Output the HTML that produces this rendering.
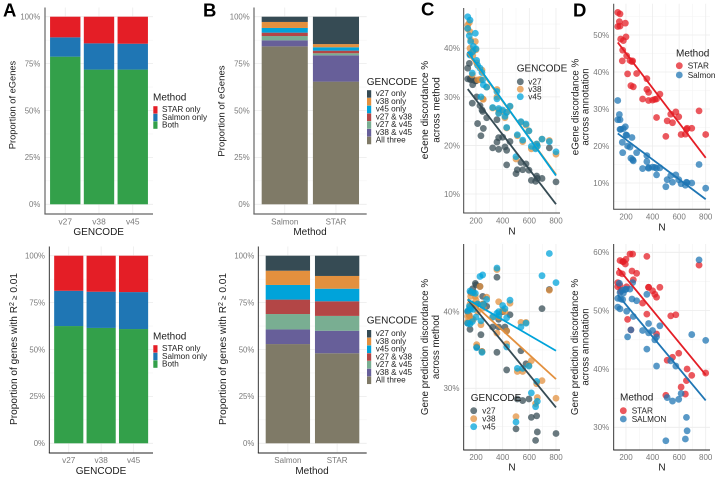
<!DOCTYPE html>
<html lang="en">
<head>
<meta charset="utf-8">
<title>eGene discordance figure</title>
<style>
html,body{margin:0;padding:0;background:#fff;}
svg{display:block;font-family:"Liberation Sans","DejaVu Sans",sans-serif;}
.title{font-size:10px;fill:#1c1c1c;}
.leg{font-size:8.2px;fill:#222;}
.letter{font-size:18.5px;font-weight:bold;fill:#000;}
</style>
</head>
<body>
<svg id="figure" width="720" height="479" viewBox="0 0 720 479" xmlns="http://www.w3.org/2000/svg">
<rect x="0" y="0" width="720" height="479" fill="#fff"/>
<g id="marks"></g>

<text class="letter" x="3" y="16.5">A</text>
<text class="letter" x="203" y="16.5">B</text>
<text class="letter" x="421" y="15.5">C</text>
<text class="letter" x="573" y="16.5">D</text>

<text class="title" style="font-size:9.3px" transform="translate(15.5 105) rotate(-90)" text-anchor="middle">Proportion of eGenes</text>
<text class="title" x="98.7" y="235" text-anchor="middle">GENCODE</text>
<text class="title" transform="translate(17 349) rotate(-90)" text-anchor="middle" style="font-size:10.1px">Proportion of genes with R<tspan dy="-3" style="font-size:7px">2</tspan><tspan dy="3" style="font-size:8px"> ≥</tspan> 0.01</text>
<text class="title" x="101" y="474" text-anchor="middle">GENCODE</text>

<text class="title" style="font-size:9.6px" transform="translate(224.5 111) rotate(-90)" text-anchor="middle">Proportion of eGenes</text>
<text class="title" x="310" y="235" text-anchor="middle">Method</text>
<text class="title" transform="translate(226.2 349) rotate(-90)" text-anchor="middle" style="font-size:10.1px">Proportion of genes with R<tspan dy="-3" style="font-size:7px">2</tspan><tspan dy="3" style="font-size:8px"> ≥</tspan> 0.01</text>
<text class="title" x="312" y="474" text-anchor="middle">Method</text>

<g text-anchor="middle">
<text class="title" transform="translate(428.2 110) rotate(-90)">eGene discordance %</text>
<text class="title" transform="translate(439.5 110) rotate(-90)">across method</text>
</g>
<text class="title" x="512" y="234.5" text-anchor="middle">N</text>
<g text-anchor="middle">
<text class="title" style="font-size:9.8px" transform="translate(428.2 347) rotate(-90)">Gene prediction discordance %</text>
<text class="title" style="font-size:9.8px" transform="translate(439.2 347) rotate(-90)">across method</text>
</g>
<text class="title" x="512" y="470.7" text-anchor="middle">N</text>

<g text-anchor="middle">
<text class="title" style="font-size:9.8px" transform="translate(578.5 107) rotate(-90)">eGene discordance %</text>
<text class="title" style="font-size:9.8px" transform="translate(588.7 107) rotate(-90)">across annotation</text>
</g>
<text class="title" x="662" y="230.5" text-anchor="middle">N</text>
<g text-anchor="middle">
<text class="title" style="font-size:9.8px" transform="translate(578.2 347) rotate(-90)">Gene prediction discordance %</text>
<text class="title" style="font-size:9.8px" transform="translate(588.7 347) rotate(-90)">across annotation</text>
</g>
<text class="title" x="662" y="470.7" text-anchor="middle">N</text>
<g id="legends"></g>
</svg>

<script>
/* ---------- categories and tick labels ---------- */
const gencodeCategories = ['v27', 'v38', 'v45'];
const methodCategories = ['Salmon', 'STAR'];
const percentTicks = [0, 25, 50, 75, 100];
const sampleTicks = [200, 400, 600, 800];
const topLeftDiscordanceTicks = [10, 20, 30, 40];
const bottomLeftDiscordanceTicks = [30, 40];
const topRightDiscordanceTicks = [10, 20, 30, 40, 50];
const bottomRightDiscordanceTicks = [30, 40, 50, 60];

/* ---------- panel A stacked bars (percent, bottom of stack first) ---------- */
const aTopBoth = [78.7, 71.8, 71.8];
const aTopSalmonOnly = [10.3, 14.0, 13.8];
const aTopStarOnly = [11.0, 14.2, 14.4];
const aBottomBoth = [62.5, 61.5, 60.9];
const aBottomSalmonOnly = [18.8, 19.3, 19.7];
const aBottomStarOnly = [18.7, 19.2, 19.4];

/* ---------- panel B stacked bars (percent, bottom of stack first) ---------- */
const bTopAllThree = [84.2, 65.4];
const bTopV38V45 = [3.2, 14.0];
const bTopV27V45 = [2.3, 1.1];
const bTopV27V38 = [1.8, 1.4];
const bTopV45Only = [2.5, 1.8];
const bTopV38Only = [3.2, 1.7];
const bTopV27Only = [2.8, 14.6];
const bBottomAllThree = [52.9, 48.0];
const bBottomV38V45 = [7.8, 12.0];
const bBottomV27V45 = [8.2, 7.9];
const bBottomV27V38 = [7.7, 7.8];
const bBottomV45Only = [7.8, 6.7];
const bBottomV38Only = [7.6, 6.8];
const bBottomV27Only = [8.0, 10.8];

/* ---------- scatter panels: sample size per tissue ---------- */
const sampleSizes = [138,138,150,155,155,160,172,175,180,195,200,205,212,230,237,245,250,255,280,325,357,357,370,370,400,417,430,430,455,500,510,537,550,575,597,615,647,655,660,695,750,800];

const cTopV27 = [35.9,33.7,36.9,33.7,38.8,33.5,28.7,32.5,33.5,33.3,33.3,30.0,24.5,28.2,22.0,27.3,27.0,23.5,25.7,19.5,25.3,20.7,21.6,19.2,21.7,19.7,19.0,16.0,20.8,14.2,15.0,16.5,15.0,16.2,14.9,12.8,12.6,13.7,13.2,13.2,19.5,12.5];
const cTopV38 = [44.8,44.0,45.3,43.4,40.0,41.7,34.5,38.5,39.5,41.4,39.7,37.0,33.5,33.6,33.5,35.5,29.6,29.5,32.0,27.7,31.5,30.0,26.7,27.3,27.0,25.7,26.8,23.6,28.0,17.2,22.0,24.8,20.8,24.2,23.0,19.3,19.5,20.3,20.0,21.3,21.0,18.2];
const cTopV45 = [46.5,44.1,42.6,45.8,38.6,41.4,34.9,39.3,40.4,43.1,39.9,37.5,36.5,35.9,30.0,35.0,33.5,32.5,32.0,27.8,31.1,29.6,27.6,26.6,27.3,26.0,26.8,23.7,28.1,17.7,22.2,24.9,21.1,24.4,23.0,19.8,19.3,20.3,19.8,21.3,20.8,18.7];
const cBottomV27 = [40,38.5,39.5,37.7,40.5,42.5,41,43,42.5,43.7,43.5,35.4,41,43.3,37,34.8,42,41,40.7,38,44.5,34.7,39,38,40,38,32.4,37.5,39.6,24.7,28.6,34.9,28.4,33.2,28.6,26.2,23.2,26.4,24.3,40.4,42.9,24.1];
const cBottomV38 = [39.4,38.7,39.5,38.5,41,42,39,42.5,39,42,41.5,35.7,40,43.3,38.3,34.8,41,40.5,41.9,39.3,45.5,37.2,41.3,39.3,40.2,40,35.8,37.5,41.1,26.3,32.2,38.6,32.2,38.6,33,33.6,28,30.6,28.8,31,42.8,28.7];
const cBottomV45 = [40.1,38.5,40.7,38.4,42.7,40.3,38.7,42.5,40.3,42.4,39.3,35.3,41,44.6,38.8,34.7,44.8,40.9,41.6,39.3,45.7,39.8,40,39.5,40.8,40.4,39.2,35.4,41.5,25.6,32.6,38,32.6,38.5,32.9,29.4,27.6,30.9,28.3,44.7,47.6,43.8];
const dTopStar = [56.1,52.3,53.6,55.7,52.4,48.9,43.0,45.9,48.5,53.2,49.5,44.4,39.5,43.1,36.3,42.8,43.0,36.0,39.6,32.7,38.2,35.3,34.5,32.3,32.4,32.6,32.7,27.7,34.0,22.6,26.8,28.6,26.3,29.2,27.9,23.1,23.2,24.5,24.8,24.8,29.5,23.1];
const dTopSalmon = [32.3,27.1,28.5,27.1,24.5,24.5,21.0,18.2,24.7,25.2,23.0,22.9,20.0,19.7,16.7,22.3,16.3,16.0,18.2,13.9,17.4,15.8,14.0,14.2,14.3,14.2,12.2,14.0,14.1,9.0,10.9,12.0,10.2,12.2,10.9,9.8,9.4,10.2,10.1,10.0,15.0,8.6];
const dBottomStar = [54.8,54.1,56.5,58.6,54.3,53.3,56.3,58.4,58.4,58,58.8,54.1,48.5,59.7,46.7,56.8,59.7,55.3,56.4,51.3,59.3,49.4,54,54,53.4,52.8,52.3,46,54,35.5,41.5,49.1,42,49.3,42.7,36.9,35.7,38,40,38.9,57.8,39.3];
const dBottomSalmon = [52.1,50.6,54.7,53.1,50.3,52,53.5,51.9,53,53.6,53.7,49.9,45.5,53.7,46.7,52,54.8,49,51.7,46.6,52.8,43.4,47.8,46.2,46.6,45,45.5,40.5,47.4,27.7,35.1,41.4,34.5,40.5,34.8,35.8,28,31.7,29.4,45.9,58.7,44.9];

/* ---------- fitted trend lines: value at first and last trend N ---------- */
const trendSizes = [138, 800];
const cTopV27Trend = [31.6, 7.9];
const cTopV38Trend = [39.0, 14.0];
const cTopV45Trend = [39.3, 13.8];
const cBottomV27Trend = [41.6, 27.5];
const cBottomV38Trend = [41.7, 31.2];
const cBottomV45Trend = [41.6, 34.9];
const dTopStarTrend = [48.0, 16.8];
const dTopSalmonTrend = [23.4, 5.6];
const dBottomStarTrend = [57.3, 39.0];
const dBottomSalmonTrend = [52.7, 34.6];

/* ---------- colours ---------- */
const RED = '#e41e26', BLUE = '#1f76b4', GREEN = '#33a04a';
const V27 = '#364b54', V38 = '#e3903e', V45 = '#00a3da', V2738 = '#b34646', V2745 = '#79ae92', V3845 = '#675f99', ALL3 = '#7f7a67';
const NS = 'http://www.w3.org/2000/svg';
const marks = document.getElementById('marks');
const legends = document.getElementById('legends');

function svgEl(tag, attrs, parent) {
  const el = document.createElementNS(NS, tag);
  for (const k in attrs) el.setAttribute(k, attrs[k]);
  parent.appendChild(el);
  return el;
}
function linear(d0, d1, r0, r1) {
  return v => r0 + (v - d0) * (r1 - r0) / (d1 - d0);
}
function gridLine(parent, x1, y1, x2, y2, minor) {
  const line = svgEl('line', {x1, y1, x2, y2, stroke: minor ? '#f4f4f4' : '#ececec', 'stroke-width': minor ? 0.6 : 0.8}, parent);
  
  
}
function axisLines(parent, g, color, width) {
  const yAxis = svgEl('line', {x1: g.left, y1: g.top, x2: g.left, y2: g.bottom, stroke: color, 'stroke-width': width}, parent);
  
  
  const xAxis = svgEl('line', {x1: g.left - width / 2, y1: g.bottom, x2: g.right, y2: g.bottom, stroke: color, 'stroke-width': width}, parent);
  
  
}
function tickLabel(parent, x, y, anchor, str, size) {
  const t = svgEl('text', {x, y, 'text-anchor': anchor, fill: '#7a7a7a', 'font-size': size}, parent);
  t.textContent = str;
  
  
}

/* ---------- stacked bar panel ---------- */
function barPanel(g, categories, series) {
  const panel = svgEl('g', {}, marks);
  
  
  const y = linear(0, 100, g.y0, g.y100);
  const step = (g.right - g.left) / (categories.length + 0.2);
  const xCenter = i => g.left + step * (i + 0.6);
  [12.5, 37.5, 62.5, 87.5].forEach(v => gridLine(panel, g.left, y(v), g.right, y(v), true));
  percentTicks.forEach(v => gridLine(panel, g.left, y(v), g.right, y(v), false));
  categories.forEach((c, i) => gridLine(panel, xCenter(i), g.top, xCenter(i), g.bottom, false));
  categories.forEach((c, i) => {
    let cum = 0;
    series.forEach(s => {
      const v = s.values[i];
      const bar = svgEl('rect', {x: xCenter(i) - step * 0.45, y: y(cum + v), width: step * 0.9, height: y(cum) - y(cum + v), fill: s.color}, panel);
      
      
      cum += v;
    });
    tickLabel(panel, xCenter(i), g.xTickY, 'middle', c, g.xTickSize);
  });
  percentTicks.forEach(v => tickLabel(panel, g.yTickX, y(v) + 2.8, 'end', v + '%', 7.8));
  axisLines(panel, g, g.axisColor, g.axisWidth);
}

barPanel({name: 'panel-a-top', left: 45, right: 153, top: 7.5, bottom: 214, y0: 204.3, y100: 16.7, xTickY: 224.3, xTickSize: 8.4, yTickX: 40.3, axisColor: '#666', axisWidth: 1.2},
  gencodeCategories, [{color: GREEN, values: aTopBoth}, {color: BLUE, values: aTopSalmonOnly}, {color: RED, values: aTopStarOnly}]);
barPanel({name: 'panel-a-bottom', left: 49.3, right: 153, top: 246.5, bottom: 453, y0: 443.3, y100: 255.7, xTickY: 463, xTickSize: 8.2, yTickX: 45, axisColor: '#222', axisWidth: 0.9},
  gencodeCategories, [{color: GREEN, values: aBottomBoth}, {color: BLUE, values: aBottomSalmonOnly}, {color: RED, values: aBottomStarOnly}]);
barPanel({name: 'panel-b-top', left: 254, right: 366.7, top: 7.5, bottom: 214, y0: 204.3, y100: 16.7, xTickY: 224.3, xTickSize: 8, yTickX: 249.7, axisColor: '#666', axisWidth: 1.2},
  methodCategories, [{color: ALL3, values: bTopAllThree}, {color: V3845, values: bTopV38V45}, {color: V2745, values: bTopV27V45}, {color: V2738, values: bTopV27V38}, {color: V45, values: bTopV45Only}, {color: V38, values: bTopV38Only}, {color: V27, values: bTopV27Only}]);
barPanel({name: 'panel-b-bottom', left: 258.3, right: 366.7, top: 246.5, bottom: 453, y0: 443.3, y100: 255.7, xTickY: 463, xTickSize: 8, yTickX: 254.3, axisColor: '#222', axisWidth: 0.9},
  methodCategories, [{color: ALL3, values: bBottomAllThree}, {color: V3845, values: bBottomV38V45}, {color: V2745, values: bBottomV27V45}, {color: V2738, values: bBottomV27V38}, {color: V45, values: bBottomV45Only}, {color: V38, values: bBottomV38Only}, {color: V27, values: bBottomV27Only}]);

/* ---------- scatter panel ---------- */
function scatterPanel(g, ticks, series) {
  const panel = svgEl('g', {}, marks);
  
  
  const x = linear(200, 800, g.x200, g.x800);
  const y = linear(g.vA, g.vB, g.yA, g.yB);
  const tickStep = ticks[1] - ticks[0];
  for (let v = ticks[0] - tickStep * 1.5; v <= ticks[ticks.length - 1] + tickStep * 2; v += tickStep) {
    const py = y(v);
    if (py > g.top && py < g.bottom) gridLine(panel, g.left, py, g.right, py, true);
  }
  [100, 300, 500, 700].forEach(v => { if (x(v) > g.left) gridLine(panel, x(v), g.top, x(v), g.bottom, true); });
  ticks.forEach(v => gridLine(panel, g.left, y(v), g.right, y(v), false));
  sampleTicks.forEach(v => gridLine(panel, x(v), g.top, x(v), g.bottom, false));
  series.forEach(s => {
    sampleSizes.forEach((n, i) => {
      const pt = svgEl('circle', {cx: x(n), cy: y(s.values[i]), r: 3.4, fill: s.color, 'fill-opacity': 0.74}, panel);
      
      
    });
  });
  series.forEach(s => {
    const trend = svgEl('line', {x1: x(trendSizes[0]), y1: y(s.trend[0]), x2: x(trendSizes[1]), y2: y(s.trend[1]), stroke: s.color, 'stroke-width': 1.8}, panel);
    
    
  });
  ticks.forEach(v => tickLabel(panel, g.yTickX, y(v) + 2.9, 'end', v + '%', 8));
  sampleTicks.forEach(v => tickLabel(panel, x(v), g.xTickY, 'middle', String(v), 8));
  axisLines(panel, g, g.axisColor, g.axisWidth);
}

scatterPanel({name: 'panel-c-top', left: 463.7, right: 560, top: 8, bottom: 213, x200: 476, x800: 556, vA: 40, vB: 10, yA: 48.3, yB: 194, yTickX: 460, xTickY: 223.3, axisColor: '#444', axisWidth: 1},
  topLeftDiscordanceTicks, [{key: 'v27', color: V27, values: cTopV27, trend: cTopV27Trend}, {key: 'v38', color: V38, values: cTopV38, trend: cTopV38Trend}, {key: 'v45', color: V45, values: cTopV45, trend: cTopV45Trend}]);
scatterPanel({name: 'panel-c-bottom', left: 463.7, right: 560, top: 244, bottom: 450, x200: 476, x800: 556, vA: 40, vB: 30, yA: 311.7, yB: 388.3, yTickX: 459.5, xTickY: 460, axisColor: '#222', axisWidth: 0.9},
  bottomLeftDiscordanceTicks, [{key: 'v27', color: V27, values: cBottomV27, trend: cBottomV27Trend}, {key: 'v38', color: V38, values: cBottomV38, trend: cBottomV38Trend}, {key: 'v45', color: V45, values: cBottomV45, trend: cBottomV45Trend}]);
scatterPanel({name: 'panel-d-top', left: 613.7, right: 710, top: 3.7, bottom: 209.3, x200: 626, x800: 705.7, vA: 50, vB: 10, yA: 35, yB: 183, yTickX: 609.3, xTickY: 219.3, axisColor: '#444', axisWidth: 1},
  topRightDiscordanceTicks, [{key: 'star', color: RED, values: dTopStar, trend: dTopStarTrend}, {key: 'salmon', color: BLUE, values: dTopSalmon, trend: dTopSalmonTrend}]);
scatterPanel({name: 'panel-d-bottom', left: 613.7, right: 710, top: 244, bottom: 450, x200: 626, x800: 705.7, vA: 60, vB: 30, yA: 252.3, yB: 427.3, yTickX: 609.3, xTickY: 460, axisColor: '#222', axisWidth: 0.9},
  bottomRightDiscordanceTicks, [{key: 'star', color: RED, values: dBottomStar, trend: dBottomStarTrend}, {key: 'salmon', color: BLUE, values: dBottomSalmon, trend: dBottomSalmonTrend}]);

/* ---------- legends ---------- */
function legendTitle(x, y, str) {
  const t = svgEl('text', {x, y, class: 'title'}, legends);
  t.textContent = str;
  
  
}
function legendLabel(x, y, str) {
  const t = svgEl('text', {x, y, class: 'leg'}, legends);
  t.textContent = str;
  
  
}
function barLegend(x, titleY, firstY, step, labelX, names, colors, title) {
  legendTitle(x, titleY, title);
  names.forEach((n, i) => {
    const key = svgEl('rect', {x: x + 0.3, y: firstY + i * step - 6, width: 4.2, height: step - 0.2, fill: colors[i]}, legends);
    
    
    legendLabel(labelX, firstY + i * step, n);
  });
}
function dotLegend(titleX, titleY, keyX, keyYs, labelX, names, colors, title) {
  legendTitle(titleX, titleY, title);
  names.forEach((n, i) => {
    const key = svgEl('circle', {cx: keyX, cy: keyYs[i], r: 3.4, fill: colors[i], 'fill-opacity': 0.74}, legends);
    
    
    legendLabel(labelX, keyYs[i] + 3, n);
  });
}
const methodLegendNames = ['STAR only', 'Salmon only', 'Both'];
const gencodeLegendNames = ['v27 only', 'v38 only', 'v45 only', 'v27 & v38', 'v27 & v45', 'v38 & v45', 'All three'];
const gencodeLegendColors = [V27, V38, V45, V2738, V2745, V3845, ALL3];
barLegend(153, 100.7, 112.2, 7.6, 162, methodLegendNames, [RED, BLUE, GREEN], 'Method');
barLegend(153, 339.3, 351.2, 7.6, 162, methodLegendNames, [RED, BLUE, GREEN], 'Method');
barLegend(366.7, 85, 96.2, 7.75, 375.7, gencodeLegendNames, gencodeLegendColors, 'GENCODE');
barLegend(366.7, 323.7, 336, 7.75, 375.7, gencodeLegendNames, gencodeLegendColors, 'GENCODE');
dotLegend(516.7, 71.3, 520.3, [81.7, 89.2, 96.7], 528.3, gencodeCategories, [V27, V38, V45], 'GENCODE');
dotLegend(470.7, 401, 473.7, [410.7, 418.7, 426.7], 482.3, gencodeCategories, [V27, V38, V45], 'GENCODE');
dotLegend(676, 56.7, 679.3, [65.7, 75], 687.7, ['STAR', 'Salmon'], [RED, BLUE], 'Method');
dotLegend(620, 400.7, 623.3, [410.7, 419], 631.7, ['STAR', 'SALMON'], [RED, BLUE], 'Method');
</script>
</body>
</html>
